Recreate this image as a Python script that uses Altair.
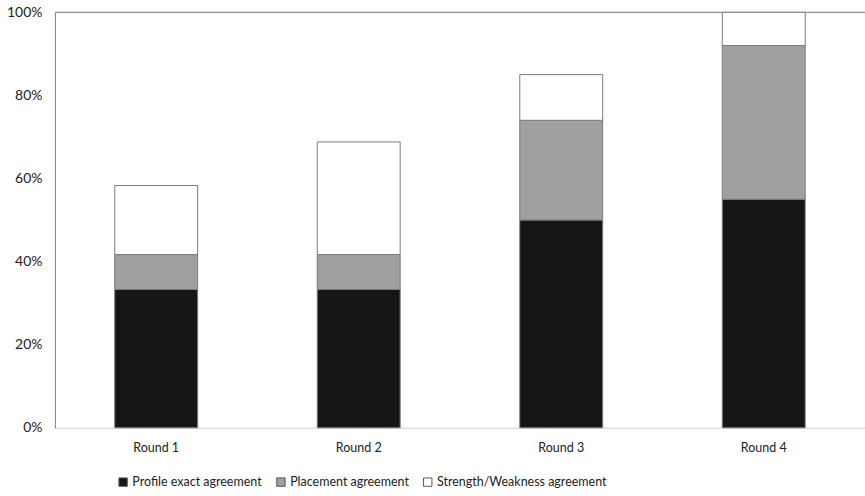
import altair as alt
import pandas as pd

# Agreement shares per review round (fractions of all cases)
rounds = ["Round 1", "Round 2", "Round 3", "Round 4"]
series = ["Profile exact agreement", "Placement agreement", "Strength/Weakness agreement"]
profile_exact = [0.333, 0.333, 0.500, 0.550]
placement = [0.084, 0.084, 0.240, 0.370]
strength_weakness = [0.166, 0.271, 0.110, 0.080]
fills = ["#161616", "#a0a0a0", "#ffffff"]

rows = []
for i, r in enumerate(rounds):
    for k, (name, vals) in enumerate(zip(series, [profile_exact, placement, strength_weakness])):
        rows.append({"round": r, "series": name, "value": vals[i], "order": k})
df = pd.DataFrame(rows)

FONT = "Lato"

bars = alt.Chart(df).mark_bar(size=83, stroke="#7a7a7a", strokeWidth=1).encode(
    x=alt.X("round:N", sort=rounds, title=None,
            scale=alt.Scale(paddingInner=0, paddingOuter=0),
            axis=alt.Axis(labelAngle=0, ticks=False, domainColor="#d9d9d9",
                          labelPadding=14, labelFontSize=12.5, labelColor="#222",
                          labelFont=FONT)),
    y=alt.Y("value:Q", stack="zero", title=None,
            scale=alt.Scale(domain=[0, 1], nice=False),
            axis=alt.Axis(format="%", values=[0, 0.2, 0.4, 0.6, 0.8, 1.0], grid=False,
                          ticks=False, domainColor="#808080", labelPadding=13,
                          labelFontSize=14, labelColor="#222", labelFont=FONT)),
    color=alt.Color("series:N", sort=series,
                    scale=alt.Scale(domain=series, range=fills),
                    legend=alt.Legend(orient="none", direction="horizontal", title=None,
                                      legendX=62, legendY=464, columnPadding=12,
                                      symbolType="square", symbolSize=70,
                                      symbolStrokeColor="#555", symbolStrokeWidth=1,
                                      symbolOffset=0, labelOffset=3, labelLimit=400,
                                      labelFontSize=12.5, labelColor="#222",
                                      labelFont=FONT)),
    order=alt.Order("order:Q"),
)

# Top edge of the frame at 100%
frame_top = alt.Chart(pd.DataFrame({"y": [1.0]})).mark_rule(color="#808080", strokeWidth=1).encode(
    y=alt.Y("y:Q")
)

chart = alt.layer(frame_top, bars).properties(
    width=811, height=416,
    autosize=alt.AutoSizeParams(type="none"),
    padding={"left": 55, "top": 12, "right": 0, "bottom": 68},
).configure_view(stroke=None).configure(background="white")

chart.save("out.html", embed_options={"renderer": "svg", "actions": False})
